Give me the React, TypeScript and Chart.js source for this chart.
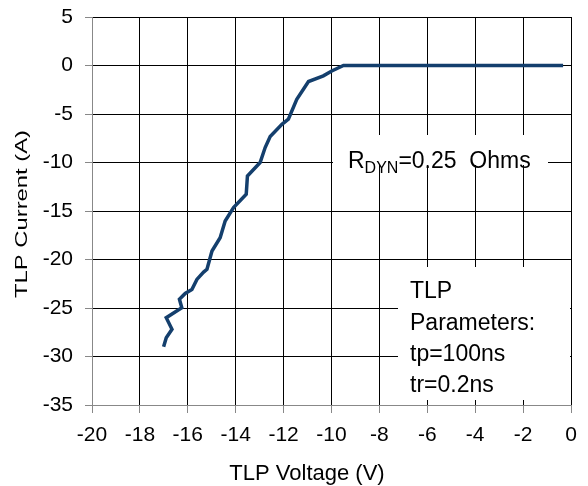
import React, { useEffect, useRef } from "react";
import { Chart, registerables } from "chart.js";

Chart.register(...registerables);

const voltage = [
  -17.01, -16.9, -16.66, -16.9, -16.25, -16.35, -16.11, -15.83, -15.62, -15.34,
  -15.2, -14.99, -14.65, -14.44, -14.09, -13.56, -13.51, -12.98, -12.77, -12.56,
  -12.07, -11.8, -11.45, -10.96, -10.34, -9.99, -9.5, -0.33,
];
const current = [
  -29.0, -28.07, -27.2, -26.0, -24.97, -24.1, -23.5, -23.1, -22.05, -21.3,
  -21.0, -19.13, -17.75, -16.04, -14.65, -13.28, -11.39, -10.0, -8.46, -7.33,
  -6.06, -5.54, -3.48, -1.65, -1.07, -0.56, 0, 0,
];
const xTitle = "TLP Voltage (V)";
const yTitle = "TLP Current (A)";
const paramLines = ["TLP", "Parameters:", "tp=100ns", "tr=0.2ns"];

const FONT = "'Liberation Sans', Arial, sans-serif";

const annotations = {
  id: "annotations",
  afterDraw(chart: any) {
    const ctx = chart.ctx as CanvasRenderingContext2D;
    ctx.save();
    ctx.fillStyle = "#fff";
    ctx.fillRect(333, 135, 215, 30);
    ctx.fillRect(398, 267, 172, 133);
    ctx.fillStyle = "#000";
    ctx.textBaseline = "alphabetic";
    ctx.textAlign = "left";
    let x = 348;
    ctx.font = `23px ${FONT}`;
    ctx.fillText("R", x, 168);
    x += ctx.measureText("R").width;
    ctx.font = `16px ${FONT}`;
    ctx.fillText("DYN", x, 173);
    x += ctx.measureText("DYN").width;
    ctx.font = `23px ${FONT}`;
    ctx.fillText("=0.25  Ohms", x, 168);
    const bases = [298, 329.5, 361, 392];
    paramLines.forEach((t, i) => ctx.fillText(t, 410, bases[i]));
    ctx.textAlign = "center";
    ctx.font = `22px ${FONT}`;
    ctx.fillText(xTitle, 307, 480);
    ctx.translate(26.5, 214);
    ctx.rotate(-Math.PI / 2);
    ctx.scale(1.4, 1);
    ctx.font = `17px ${FONT}`;
    ctx.fillText(yTitle, 0, 0);
    ctx.restore();
  },
};

export default function App() {
  const ref = useRef<HTMLCanvasElement | null>(null);
  useEffect(() => {
    document.body.style.margin = "0";
    const data = voltage.map((v, i) => ({ x: v, y: current[i] }));
    const chart = new Chart(ref.current!, {
      type: "scatter",
      data: {
        datasets: [
          {
            data,
            showLine: true,
            borderColor: "#143F6D",
            borderWidth: 3.5,
            pointRadius: 0,
            tension: 0,
            fill: false,
          },
        ],
      },
      options: {
        animation: false,
        responsive: false,
        maintainAspectRatio: false,
        devicePixelRatio: 1,
        layout: { padding: { left: 0, right: 17, top: 17, bottom: 0 } },
        plugins: { legend: { display: false }, tooltip: { enabled: false } },
        scales: {
          x: {
            type: "linear",
            min: -20,
            max: 0,
            afterFit: (s: any) => {
              s.height = 81;
              s.paddingLeft = 0;
              s.paddingRight = 0;
            },
            ticks: {
              stepSize: 2,
              color: "#000",
              padding: 10,
              font: { family: FONT, size: 21 },
            },
            grid: { color: "#000", lineWidth: 1, tickLength: 8, tickColor: "#888" },
            border: { color: "#888", width: 1 },
          },
          y: {
            type: "linear",
            min: -35,
            max: 5,
            afterFit: (s: any) => {
              s.width = 92;
              s.paddingTop = 0;
              s.paddingBottom = 0;
            },
            ticks: {
              stepSize: 5,
              color: "#000",
              padding: 12,
              font: { family: FONT, size: 21 },
            },
            grid: { color: "#000", lineWidth: 1, tickLength: 7, tickColor: "#888" },
            border: { color: "#888", width: 1 },
          },
        },
      },
      plugins: [annotations],
    });
    return () => chart.destroy();
  }, []);
  return (
    <div style={{ width: 588, height: 486 }}>
      <canvas ref={ref} width={588} height={486} style={{ width: 588, height: 486 }} />
    </div>
  );
}
